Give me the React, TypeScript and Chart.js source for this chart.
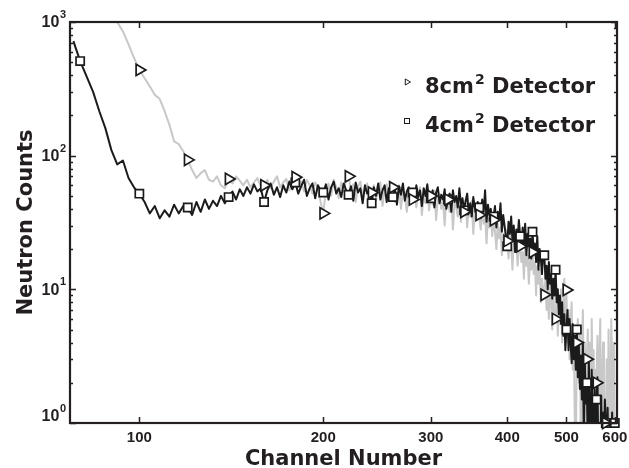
import React, { useEffect, useRef } from "react";
import { Chart, registerables } from "chart.js";

Chart.register(...registerables);

// Channel numbers (x values) shared by both spectra
const CHANNELS = [
  78,
  80, 82, 84, 86, 88, 90, 92, 94, 96, 98,
  100, 102, 104, 106, 108, 110, 112, 114, 116, 118,
  120, 122, 124, 126, 128, 130, 132, 134, 136, 138,
  140, 142, 144, 146, 148, 150, 152, 154, 156, 158,
  160, 162, 164, 166, 168, 170, 172, 174, 176, 178,
  180, 182, 184, 186, 188, 190, 192, 194, 196, 198,
  200, 202, 204, 206, 208, 210, 212, 214, 216, 218,
  220, 222, 224, 226, 228, 230, 232, 234, 236, 238,
  240, 242, 244, 246, 248, 250, 252, 254, 256, 258,
  260, 262, 264, 266, 268, 270, 272, 274, 276, 278,
  280, 282, 284, 286, 288, 290, 292, 294, 296, 298,
  300, 302, 304, 306, 308, 310, 312, 314, 316, 318,
  320, 322, 324, 326, 328, 330, 332, 334, 336, 338,
  340, 342, 344, 346, 348, 350, 352, 354, 356, 358,
  360, 362, 364, 366, 368, 370, 372, 374, 376, 378,
  380, 382, 384, 386, 388, 390, 392, 394, 396, 398,
  400, 402, 404, 406, 408, 410, 412, 414, 416, 418,
  420, 422, 424, 426, 428, 430, 432, 434, 436, 438,
  440, 442, 444, 446, 448, 450, 452, 454, 456, 458,
  460, 462, 464, 466, 468, 470, 472, 474, 476, 478,
  480, 482, 484, 486, 488, 490, 492, 494, 496, 498,
  500, 502, 504, 506, 508, 510, 512, 514, 516, 518,
  520, 522, 524, 526, 528, 530, 532, 534, 536, 538,
  540, 542, 544, 546, 548, 550, 552, 554, 556, 558,
  560, 562, 564, 566, 568, 570, 572, 574, 576, 578,
  580, 582, 584, 586, 588, 590, 592, 594, 596, 598,
  600,
];

// 8 cm^2 detector counts (grey line, triangle markers)
const COUNTS_8CM = [
  2500,
  2200, 1900, 1700, 1500, 1350, 1200, 1000, 850, 680, 540,
  438, 380, 330, 285, 265, 215, 170, 128, 122, 108,
  93, 78, 68, 74, 78, 66, 64, 70, 60, 57,
  67, 62, 70, 65, 60, 66, 58, 63, 68, 59,
  60, 66, 57, 64, 70, 58, 63, 67, 55, 62,
  69, 58, 64, 54, 66, 60, 52, 63, 57, 45,
  37, 56, 62, 50, 66, 58, 48, 63, 54, 68,
  70, 55, 61, 45, 59, 64, 49, 57, 62, 50,
  53, 60, 46, 58, 63, 42, 56, 61, 47, 55,
  58, 45, 53, 60, 40, 55, 50, 38, 57, 52,
  47, 55, 41, 52, 58, 36, 50, 44, 54, 39,
  50, 43, 55, 33, 48, 52, 40, 46, 30, 49,
  47, 38, 51, 28, 45, 42, 35, 50, 32, 44,
  38, 44, 29, 41, 35, 46, 26, 39, 33, 42,
  36, 28, 40, 31, 37, 22, 34, 29, 38, 25,
  33, 27, 20, 31, 24, 29, 18, 26, 22, 28,
  23, 17, 26, 21, 14, 24, 19, 22, 15, 20,
  21, 16, 19, 12, 22, 15, 18, 11, 17, 14,
  19, 13, 16, 9, 15, 11, 14, 8, 12, 10,
  9.1, 12, 7, 10, 6, 11, 8, 5, 9, 6.5,
  6, 9, 4.5, 8, 5.5, 10, 4, 7, 12, 5,
  9.9, 4, 7, 3, 6, 8, 2.5, 5, 1, 0.5,
  4, 6, 2, 5, 0.5, 3.5, 7, 1.5, 4, 2,
  3, 5, 1.2, 4, 0.5, 6, 2, 3.5, 0.5, 2.5,
  2, 4.5, 0.5, 3, 6, 0.5, 2, 4, 0.5, 1.5,
  1, 3, 0.5, 5, 2, 0.5, 6, 3, 0.5, 4,
  0.5,
];

// 4 cm^2 detector counts (black line, square markers)
const COUNTS_4CM = [
  720,
  510, 390, 300, 215, 160, 110, 86, 92, 68, 58,
  52, 45, 37, 42, 34, 39, 35, 43, 37, 42,
  41, 36, 45, 38, 47, 40, 46, 42, 50, 44,
  49, 54, 47, 56, 50, 58, 52, 61, 54, 57,
  45, 55, 62, 51, 58, 49, 60, 53, 64, 56,
  63, 52, 59, 66, 50, 57, 62, 48, 60, 55,
  53, 61, 47, 58, 64, 52, 57, 49, 62, 55,
  51, 59, 46, 63, 53, 57, 44, 60, 52, 56,
  44, 58, 50, 62, 47, 55, 60, 45, 57, 52,
  49, 56, 43, 59, 51, 62, 46, 54, 58, 48,
  53, 45, 60, 49, 55, 42, 57, 50, 61, 46,
  48, 55, 41, 53, 58, 44, 51, 47, 56, 40,
  47, 52, 38, 55, 45, 50, 41, 57, 43, 48,
  39, 46, 52, 37, 44, 35, 49, 41, 38, 45,
  41, 34, 47, 38, 55, 32, 43, 36, 40, 31,
  35, 42, 29, 38, 33, 44, 27, 36, 30, 25,
  21, 32, 26, 35, 23, 30, 19, 28, 24, 33,
  25, 20, 29, 22, 31, 18, 26, 21, 24, 17,
  27, 19, 22, 16, 25, 14, 20, 17, 13, 19,
  18, 12, 15, 10, 16, 11, 13, 8.5, 12, 9,
  14, 8, 10, 6.5, 9, 5.5, 8, 4.5, 6.5, 3.5,
  5, 7, 3.5, 6, 4, 2.8, 5.5, 3, 4.5, 2.5,
  5, 2.2, 3.8, 1.8, 3.2, 1.5, 4, 0.5, 2.8, 1.4,
  2, 0.5, 3, 1.2, 0.5, 2.5, 1, 0.5, 1.8, 0.5,
  1.5, 2.2, 0.5, 1, 0.5, 1.6, 0.5, 1.2, 0.5, 1.5,
  1, 0.5, 1.3, 0.5, 1, 0.5, 0.5, 1.2, 0.5, 0.5,
  1,
];

const MARKER_SPACING = 20; // a marker every 20 channels
const X_TICKS = [100, 200, 300, 400, 500, 600];
const Y_DECADES = [1, 10, 100, 1000];
const Y_EXPONENTS = ["0", "1", "2", "3"];
const LEGEND_BASES = ["8cm", "4cm"];
const LEGEND_SUP = "2";
const LEGEND_REST = " Detector";
const X_TITLE = "Channel Number";
const Y_TITLE = "Neutron Counts";

const AXIS_COLOR = "#231f20";
const BLACK = "#1b1b1b";
const GREY = "#c8c8c8";
const FONT = '"DejaVu Sans", "Liberation Sans", Arial, sans-serif';
const TICK_FONT = '"Liberation Sans", Arial, sans-serif';

const toPoints = (ys: number[]) => CHANNELS.map((c, i) => ({ x: c, y: ys[i] }));
const markerPoints = (ys: number[]) =>
  CHANNELS.map((c, i) => ({ x: c, y: ys[i] })).filter((p) => p.x % MARKER_SPACING === 0);

function drawTriangleRight(ctx: CanvasRenderingContext2D, x: number, y: number, r: number) {
  ctx.beginPath();
  ctx.moveTo(x + r, y);
  ctx.lineTo(x - r / 2, y - (r * Math.sqrt(3)) / 2);
  ctx.lineTo(x - r / 2, y + (r * Math.sqrt(3)) / 2);
  ctx.closePath();
  ctx.fill();
  ctx.stroke();
}

const framePlugin = {
  id: "frame",
  afterDraw(chart: any) {
    const { ctx, chartArea: a, scales } = chart;
    const xs = scales.x;
    const ys = scales.y;
    ctx.save();

    // box
    ctx.strokeStyle = AXIS_COLOR;
    ctx.lineWidth = 2.2;
    ctx.strokeRect(a.left, a.top, a.right - a.left, a.bottom - a.top);

    // ticks (inward)
    ctx.lineWidth = 1.5;
    ctx.beginPath();
    X_TICKS.forEach((v) => {
      const px = Math.round(xs.getPixelForValue(v)) + 0.5;
      ctx.moveTo(px, a.bottom);
      ctx.lineTo(px, a.bottom - 6);
      ctx.moveTo(px, a.top);
      ctx.lineTo(px, a.top + 6);
    });
    Y_DECADES.forEach((d, k) => {
      const py = Math.round(ys.getPixelForValue(d)) + 0.5;
      ctx.moveTo(a.left, py);
      ctx.lineTo(a.left + 6, py);
      ctx.moveTo(a.right, py);
      ctx.lineTo(a.right - 6, py);
      if (k < Y_DECADES.length - 1) {
        for (let m = 2; m <= 9; m++) {
          const pm = Math.round(ys.getPixelForValue(d * m)) + 0.5;
          ctx.moveTo(a.left, pm);
          ctx.lineTo(a.left + 3, pm);
          ctx.moveTo(a.right, pm);
          ctx.lineTo(a.right - 3, pm);
        }
      }
    });
    ctx.stroke();

    ctx.fillStyle = AXIS_COLOR;

    // x tick labels
    ctx.font = `bold 15px ${TICK_FONT}`;
    ctx.textAlign = "center";
    ctx.textBaseline = "middle";
    X_TICKS.forEach((v) => {
      ctx.fillText(String(v), xs.getPixelForValue(v), a.bottom + 15);
    });

    // y tick labels 10^k
    Y_DECADES.forEach((d, k) => {
      let py = ys.getPixelForValue(d) + 1;
      if (k === 0) py -= 7;
      ctx.font = `bold 11px ${TICK_FONT}`;
      const supW = ctx.measureText(Y_EXPONENTS[k]).width;
      const right = a.left - 4;
      ctx.textAlign = "left";
      ctx.textBaseline = "middle";
      ctx.fillText(Y_EXPONENTS[k], right - supW, py - 8);
      ctx.font = `bold 16px ${TICK_FONT}`;
      ctx.textAlign = "right";
      ctx.fillText("10", right - supW - 0.5, py);
    });

    // axis titles
    ctx.font = `bold 21px ${FONT}`;
    ctx.textAlign = "center";
    ctx.textBaseline = "alphabetic";
    ctx.fillText(X_TITLE, (a.left + a.right) / 2, 465);
    ctx.save();
    ctx.translate(32, (a.top + a.bottom) / 2);
    ctx.rotate(-Math.PI / 2);
    ctx.fillText(Y_TITLE, 0, 0);
    ctx.restore();

    // legend
    const rows = [
      { y: 93, kind: "tri" },
      { y: 132, kind: "sq" },
    ];
    rows.forEach((row, i) => {
      ctx.strokeStyle = BLACK;
      ctx.fillStyle = "#ffffff";
      ctx.lineWidth = 1;
      const my = row.y - 11;
      if (row.kind === "tri") {
        drawTriangleRight(ctx, 407, my, 3.5);
      } else {
        ctx.fillRect(404.5, my - 2.5, 5, 5);
        ctx.strokeRect(404.5, my - 2.5, 5, 5);
      }
      ctx.fillStyle = AXIS_COLOR;
      ctx.textAlign = "left";
      ctx.textBaseline = "alphabetic";
      let x = 425;
      ctx.font = `bold 21px ${FONT}`;
      ctx.fillText(LEGEND_BASES[i], x, row.y);
      x += ctx.measureText(LEGEND_BASES[i]).width + 1;
      ctx.font = `bold 14px ${FONT}`;
      ctx.fillText(LEGEND_SUP, x, row.y - 9);
      x += ctx.measureText(LEGEND_SUP).width;
      ctx.font = `bold 21px ${FONT}`;
      ctx.fillText(LEGEND_REST, x, row.y);
    });

    ctx.restore();
  },
};

export default function App() {
  const canvasRef = useRef<HTMLCanvasElement | null>(null);

  useEffect(() => {
    document.body.style.margin = "0";
    const canvas = canvasRef.current;
    if (!canvas) return;
    const markerClip = { left: 10, top: 0, right: 10, bottom: 10 };
    const chart = new Chart(canvas, {
      type: "line",
      data: {
        datasets: [
          {
            label: "8cm2 markers",
            data: markerPoints(COUNTS_8CM),
            showLine: false,
            pointStyle: "triangle",
            pointRotation: 90,
            pointRadius: 6.5,
            pointBorderWidth: 1.7,
            pointBorderColor: BLACK,
            pointBackgroundColor: "#ffffff",
            clip: markerClip,
          } as any,
          {
            label: "4cm2 markers",
            data: markerPoints(COUNTS_4CM),
            showLine: false,
            pointStyle: "rect",
            pointRadius: 5.8,
            pointBorderWidth: 1.7,
            pointBorderColor: BLACK,
            pointBackgroundColor: "#ffffff",
            clip: markerClip,
          } as any,
          {
            label: "4cm2 Detector",
            data: toPoints(COUNTS_4CM),
            borderColor: BLACK,
            borderWidth: 2,
            pointRadius: 0,
            tension: 0,
            borderJoinStyle: "round",
            clip: 0,
          } as any,
          {
            label: "8cm2 Detector",
            data: toPoints(COUNTS_8CM),
            borderColor: GREY,
            borderWidth: 2,
            pointRadius: 0,
            tension: 0,
            borderJoinStyle: "round",
            clip: 0,
          } as any,
        ],
      },
      options: {
        animation: false,
        responsive: false,
        events: [],
        layout: { padding: { left: 70, right: 12, top: 22, bottom: 45 } },
        plugins: {
          legend: { display: false },
          tooltip: { enabled: false },
        },
        scales: {
          x: { type: "logarithmic", min: 77, max: 605, display: false },
          y: { type: "logarithmic", min: 1, max: 1000, display: false },
        },
      } as any,
      plugins: [framePlugin],
    });
    return () => chart.destroy();
  }, []);

  return (
    <div style={{ position: "absolute", left: 0, top: 0, width: 629, height: 468, background: "#fff" }}>
      <canvas ref={canvasRef} width={629} height={468} style={{ display: "block" }} />
    </div>
  );
}
